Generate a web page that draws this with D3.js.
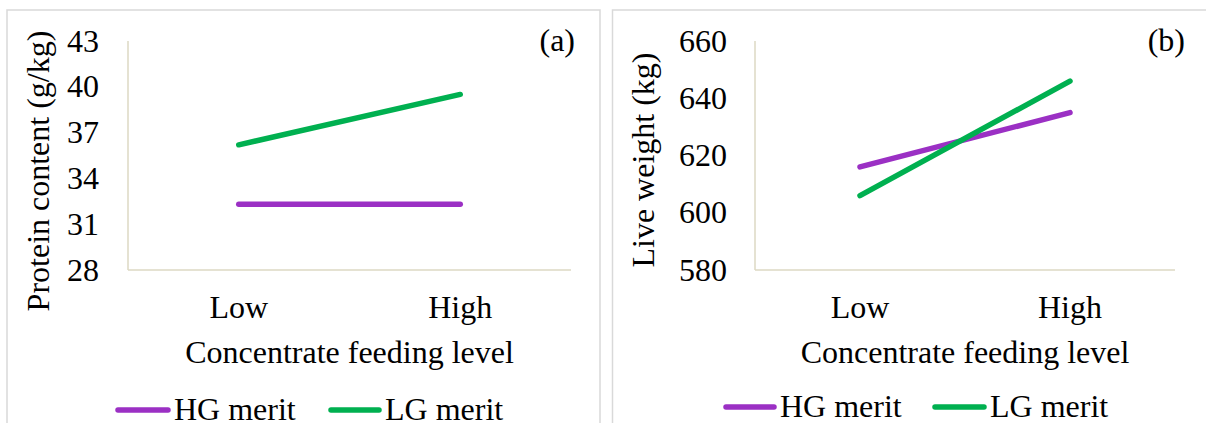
<!DOCTYPE html>
<html>
<head>
<meta charset="utf-8">
<script src="https://cdn.jsdelivr.net/npm/d3@7"></script>
<style>
  html, body { margin: 0; padding: 0; background: #fff; }
  svg { display: block; }
  text { font-family: "Liberation Serif", "Times New Roman", Times, serif; fill: #000; }
</style>
</head>
<body>
<svg id="chart" width="1206" height="423"></svg>
<script>
// Shared categories and legend
const categories = ["Low", "High"];
const seriesNames = ["HG merit", "LG merit"];
const seriesColors = ["#9b30c4", "#00b050"];

// Panel (a): protein content (g/kg)
const proteinHG = [32.3, 32.3];
const proteinLG = [36.2, 39.5];
const proteinTicks = [28, 31, 34, 37, 40, 43];

// Panel (b): live weight (kg)
const weightHG = [616, 635];
const weightLG = [606, 646];
const weightTicks = [580, 600, 620, 640, 660];

const svg = d3.select("#chart");
const FONT = 32;

const panels = [
  {
    frame: [7, 10, 593],
    plot: { x0: 128, x1: 571, y0: 41, y1: 270 },
    domain: [28, 43], ticks: proteinTicks, tickRight: 99,
    series: [proteinHG, proteinLG],
    yTitle: "Protein content (g/kg)", yTitleX: 49, yTitleY: 171,
    tag: "(a)", tagX: 575,
    legend: { y: 410, textY: 420, lines: [[115, 171], [328, 382]] }
  },
  {
    frame: [612.5, 10, 600],
    plot: { x0: 755, x1: 1175, y0: 41, y1: 270 },
    domain: [580, 660], ticks: weightTicks, tickRight: 727,
    series: [weightHG, weightLG],
    yTitle: "Live weight (kg)", yTitleX: 654, yTitleY: 160,
    tag: "(b)", tagX: 1185,
    legend: { y: 407, textY: 417, lines: [[723, 777], [932, 987]] }
  }
];

panels.forEach(p => {
  const g = svg.append("g");

  // chart frame (open at the bottom edge of the page)
  const [fx, fy, fw] = p.frame;
  g.append("rect")
    .attr("x", fx).attr("y", fy)
    .attr("width", fw).attr("height", 440)
    .attr("fill", "none").attr("stroke", "#d9d9d9").attr("stroke-width", 1.5);

  const x = d3.scaleBand().domain(categories).range([p.plot.x0, p.plot.x1]);
  const y = d3.scaleLinear().domain(p.domain).range([p.plot.y1, p.plot.y0]);

  // axis lines
  g.append("line")
    .attr("x1", p.plot.x0).attr("x2", p.plot.x0)
    .attr("y1", p.plot.y0).attr("y2", p.plot.y1)
    .attr("stroke", "#ddd9c3").attr("stroke-width", 1.5);
  g.append("line")
    .attr("x1", p.plot.x0).attr("x2", p.plot.x1)
    .attr("y1", p.plot.y1).attr("y2", p.plot.y1)
    .attr("stroke", "#ddd9c3").attr("stroke-width", 1.5);

  // y tick labels
  g.selectAll("text.ytick").data(p.ticks).join("text")
    .attr("class", "ytick")
    .attr("x", p.tickRight)
    .attr("y", d => y(d) + FONT * 0.33)
    .attr("text-anchor", "end")
    .style("font-size", FONT + "px")
    .text(d => d);

  // x category labels
  g.selectAll("text.xtick").data(categories).join("text")
    .attr("class", "xtick")
    .attr("x", d => x(d) + x.bandwidth() / 2)
    .attr("y", 318)
    .attr("text-anchor", "middle")
    .style("font-size", FONT + "px")
    .text(d => d);

  // x axis title
  g.append("text")
    .attr("x", (p.plot.x0 + p.plot.x1) / 2)
    .attr("y", 363)
    .attr("text-anchor", "middle")
    .style("font-size", FONT + "px")
    .text("Concentrate feeding level");

  // y axis title
  g.append("text")
    .attr("transform", `translate(${p.yTitleX},${p.yTitleY}) rotate(-90)`)
    .attr("text-anchor", "middle")
    .style("font-size", FONT + "px")
    .text(p.yTitle);

  // panel tag
  g.append("text")
    .attr("x", p.tagX).attr("y", 51)
    .attr("text-anchor", "end")
    .style("font-size", FONT + "px")
    .text(p.tag);

  // series lines
  const line = d3.line()
    .x((d, i) => x(categories[i]) + x.bandwidth() / 2)
    .y(d => y(d));
  p.series.forEach((vals, si) => {
    g.append("path")
      .datum(vals)
      .attr("d", line)
      .attr("fill", "none")
      .attr("stroke", seriesColors[si])
      .attr("stroke-width", 5.5)
      .attr("stroke-linecap", "round");
  });

  // legend
  seriesNames.forEach((name, si) => {
    const [lx0, lx1] = p.legend.lines[si];
    g.append("line")
      .attr("x1", lx0 + 3).attr("x2", lx1 - 3)
      .attr("y1", p.legend.y).attr("y2", p.legend.y)
      .attr("stroke", seriesColors[si])
      .attr("stroke-width", 5.5)
      .attr("stroke-linecap", "round");
    g.append("text")
      .attr("x", lx1 + 3)
      .attr("y", p.legend.textY)
      .style("font-size", FONT + "px")
      .text(name);
  });
});
</script>
</body>
</html>
